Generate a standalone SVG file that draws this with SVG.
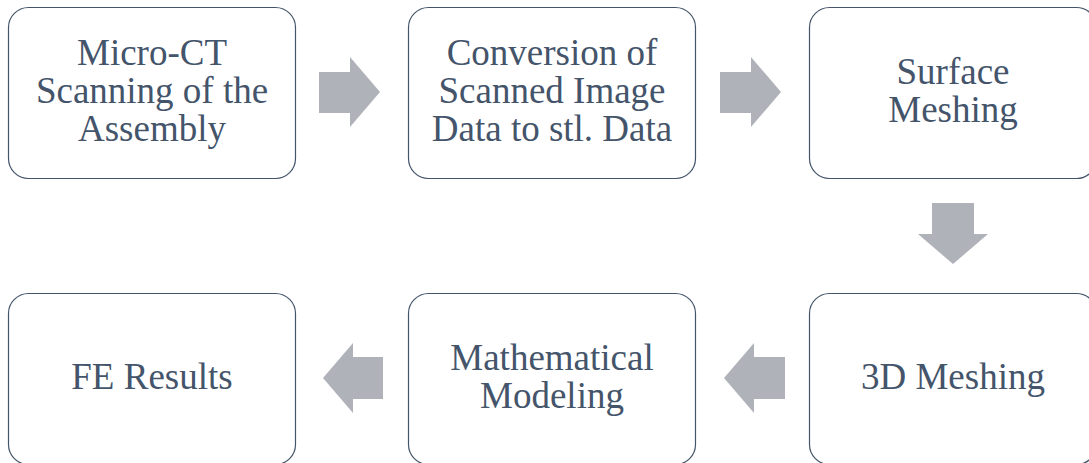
<svg xmlns="http://www.w3.org/2000/svg" width="1089" height="463" viewBox="0 0 1089 463">
<style>
.box{fill:#ffffff;stroke:#44546a;stroke-width:1.2}
.t{font-family:"Liberation Serif","Times New Roman",serif;font-size:37px;fill:#44546a;text-anchor:middle}
.ar{fill:#afb2b9}
</style>
<rect width="1089" height="463" fill="#ffffff"/>
<g id="n1"><rect class="box" x="8.5" y="7.5" width="287" height="171" rx="20"/>
<text class="t" x="152" y="65">Micro-CT</text><text class="t" x="152" y="103">Scanning of the</text><text class="t" x="152" y="141">Assembly</text></g>
<g id="n2"><rect class="box" x="408.5" y="7.5" width="287" height="171" rx="20"/>
<text class="t" x="552" y="65">Conversion of</text><text class="t" x="552" y="103">Scanned Image</text><text class="t" x="552" y="141">Data to stl. Data</text></g>
<g id="n3"><rect class="box" x="809.5" y="7.5" width="287" height="171" rx="20"/>
<text class="t" x="953" y="84">Surface</text><text class="t" x="953" y="122">Meshing</text></g>
<g id="n4"><rect class="box" x="809.5" y="293.5" width="287" height="171" rx="20"/>
<text class="t" x="953" y="389">3D Meshing</text></g>
<g id="n5"><rect class="box" x="408.5" y="293.5" width="287" height="171" rx="20"/>
<text class="t" x="552" y="370">Mathematical</text><text class="t" x="552" y="408">Modeling</text></g>
<g id="n6"><rect class="box" x="8.5" y="293.5" width="287" height="171" rx="20"/>
<text class="t" x="152" y="389">FE Results</text></g>
<g id="connectors">
<polygon class="ar" points="319,72 350,72 350,57 380,92 350,127 350,113 319,113"/>
<polygon class="ar" points="720,72 751,72 751,57 781,92 751,127 751,113 720,113"/>
<polygon class="ar" points="932,203 974,203 974,234 988,234 953,264 918,234 932,234"/>
<polygon class="ar" points="785,357 754,357 754,343 724,378 754,413 754,399 785,399"/>
<polygon class="ar" points="383,357 353,357 353,343 323,378 353,413 353,399 383,399"/>
</g>
</svg>
